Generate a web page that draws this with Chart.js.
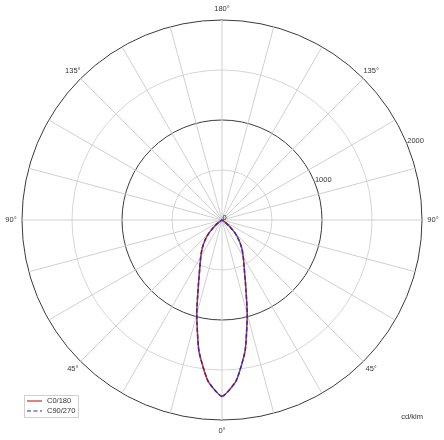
<!DOCTYPE html>
<html>
<head>
<meta charset="utf-8">
<script src="https://cdn.jsdelivr.net/npm/chart.js@4"></script>
<style>
  html, body { margin: 0; padding: 0; background: #fff; }
  #wrap { width: 444px; height: 440px; }
</style>
</head>
<body>
<div id="wrap"><canvas id="polarChart" width="444" height="440"></canvas></div>
<script>
// Gamma angles (deg) of the measured values, 0 = straight down
const gammaAngles = [0, 5, 10, 15, 20, 25, 30, 35, 40, 45, 50, 55, 60, 65, 70, 75, 80, 85, 90,
    95, 100, 105, 110, 115, 120, 125, 130, 135, 140, 145, 150, 155, 160, 165, 170, 175, 180];

// Luminous intensity in cd/klm
const c0 = [1764, 1615, 1330, 975, 690, 525, 425, 345, 265, 185, 95, 35, 12, 5, 3, 2, 1, 0, 0,
    0, 0, 0, 0, 0, 0, 0, 0, 0, 0, 0, 0, 0, 0, 0, 0, 0, 0];
const c180 = c0.slice();
const c90 = [1764, 1615, 1330, 975, 690, 525, 425, 345, 265, 185, 95, 35, 12, 5, 3, 2, 1, 0, 0,
    0, 0, 0, 0, 0, 0, 0, 0, 0, 0, 0, 0, 0, 0, 0, 0, 0, 0];
const c270 = c90.slice();

const radialTicks = [0, 1000, 2000];
const angleTickLabels = [0, 45, 90, 135, 180];
const unitLabel = "cd/klm";

const FONT = "7.5px 'Liberation Sans', Arial, sans-serif";
const TEXT_COLOR = "#333";

// full circle, index 0 at the bottom, going clockwise (left half first)
const steps = (gammaAngles.length - 1) * 2;
const circleLabels = [];
for (let i = 0; i < steps; i++) {
    circleLabels.push(i <= steps / 2 ? gammaAngles[i] : gammaAngles[steps - i]);
}

function mirror(leftHalf, rightHalf) {
    const out = [];
    for (let i = 0; i < steps; i++) {
        out.push(i <= steps / 2 ? leftHalf[i] : rightHalf[steps - i]);
    }
    return out;
}

// Draws the angle labels, the radial value labels, the unit and the legend
const polarText = {
    id: "polarText",
    afterDraw(chart) {
        const ctx = chart.ctx;
        const scale = chart.scales.r;
        const outer = scale.getDistanceFromCenterForValue(scale.max);

        ctx.save();
        ctx.font = FONT;
        ctx.fillStyle = TEXT_COLOR;

        // angle labels on both sides
        ctx.textAlign = "center";
        ctx.textBaseline = "middle";
        angleTickLabels.forEach(g => {
            const idx = gammaAngles.indexOf(g);
            const sides = (g === 0 || g === 180) ? [idx] : [idx, steps - idx];
            sides.forEach(i => {
                const p = scale.getPointPosition(i, outer + 11);
                ctx.fillText(g + "°", p.x, p.y);
            });
        });

        // value labels along a ray 22.5 deg above the right horizontal
        const a = 22.5 * Math.PI / 180;
        ctx.textAlign = "left";
        ctx.textBaseline = "alphabetic";
        radialTicks.forEach(v => {
            const d = scale.getDistanceFromCenterForValue(v);
            ctx.fillText(String(v), scale.xCenter + Math.cos(a) * d + 0.5, scale.yCenter - Math.sin(a) * d);
        });

        // unit
        ctx.textAlign = "right";
        ctx.textBaseline = "middle";
        ctx.fillText(unitLabel, 423, 417);

        // legend box
        const sets = chart.data.datasets;
        ctx.fillStyle = "#fff";
        ctx.fillRect(24.5, 395.5, 54, 22);
        ctx.strokeStyle = "#d0d0d0";
        ctx.lineWidth = 1;
        ctx.strokeRect(24.5, 395.5, 54, 22);
        sets.forEach((ds, k) => {
            const y = 401 + k * 10;
            ctx.beginPath();
            ctx.strokeStyle = ds.borderColor;
            ctx.lineWidth = 1.2;
            ctx.setLineDash(ds.borderDash || []);
            ctx.moveTo(27, y);
            ctx.lineTo(42, y);
            ctx.stroke();
            ctx.setLineDash([]);
            ctx.fillStyle = TEXT_COLOR;
            ctx.textAlign = "left";
            ctx.textBaseline = "middle";
            ctx.fillText(ds.label, 47, y);
        });
        ctx.restore();
    }
};

function setupChart() {
    const ctx = document.getElementById("polarChart").getContext("2d");

    new Chart(ctx, {
        type: "radar",
        data: {
            labels: circleLabels,
            datasets: [
                {
                    label: "C0/180",
                    data: mirror(c180, c0),
                    borderColor: "#c8302a",
                    borderWidth: 1.5,
                    fill: false,
                    pointRadius: 0,
                    tension: 0.18,
                    order: 2,
                },
                {
                    label: "C90/270",
                    data: mirror(c270, c90),
                    borderColor: "#2c2cb4",
                    borderWidth: 1.5,
                    borderDash: [4, 2.5],
                    fill: false,
                    pointRadius: 0,
                    tension: 0.18,
                    order: 1,
                },
            ],
        },
        options: {
            responsive: false,
            animation: false,
            devicePixelRatio: 1,
            layout: {
                padding: { left: 22, right: 22, top: 20, bottom: 20 },
            },
            plugins: {
                legend: { display: false },
                tooltip: { enabled: false },
            },
            scales: {
                r: {
                    min: 0,
                    max: 2000,
                    startAngle: 180,
                    ticks: { display: false, stepSize: 500 },
                    pointLabels: { display: false },
                    grid: {
                        circular: true,
                        color: c => (c.tick && c.tick.value % 1000 === 0 ? "#3a3a3a" : "#d6d6d6"),
                        lineWidth: 1,
                    },
                    angleLines: {
                        color: c => (c.index % 3 === 0 ? "#d0d0d0" : "transparent"),
                        lineWidth: 1,
                    },
                },
            },
        },
        plugins: [polarText],
    });
}

document.addEventListener("DOMContentLoaded", setupChart);
</script>
</body>
</html>
